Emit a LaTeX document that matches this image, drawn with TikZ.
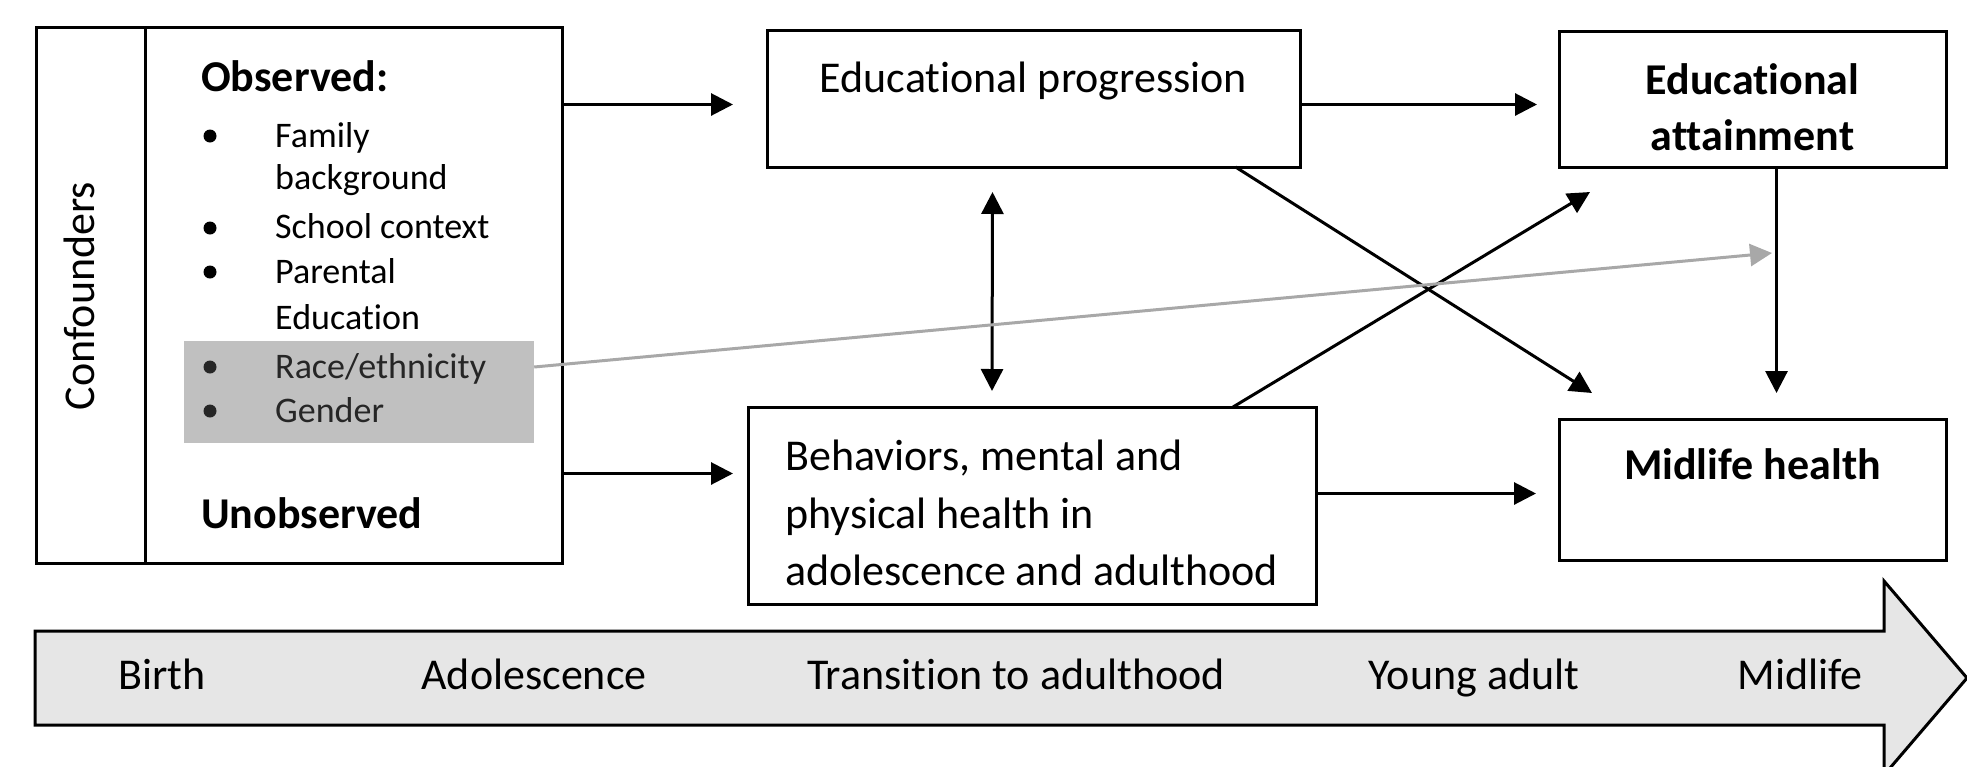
\documentclass[tikz,border=0pt]{standalone}
\usepackage{fontspec}
\setmainfont{Carlito}[Ligatures={NoCommon}]
\usetikzlibrary{arrows.meta, positioning, calc}

\definecolor{shade}{HTML}{C0C0C0}
\definecolor{band}{HTML}{E6E6E6}
\definecolor{faint}{HTML}{A8A8A8}

\tikzset{
  box/.style={draw, line width=3pt, inner sep=0pt, outer sep=0pt},
  big/.style={font=\fontsize{44}{56}\selectfont, inner sep=0pt},
  bigb/.style={font=\fontsize{44}{56}\selectfont\bfseries, inner sep=0pt},
  item/.style={font=\fontsize{36}{44}\selectfont, inner sep=0pt, anchor=base west},
  dot/.style={circle, fill, inner sep=0pt, minimum size=13pt},
  arr/.style={line width=3pt, -{Triangle[length=22pt,width=22pt]}},
}

\begin{document}
\begin{tikzpicture}[x=1pt, y=-1pt]
    \useasboundingbox (0,0) rectangle (1967,766);

    % Confounders block
    \node[box, minimum width=109pt, minimum height=536pt] (conflab) at (90.5,295) {};
    \node[big, rotate=90] (conftitle) at (79,296) {Confounders};
    \node[box, anchor=west, minimum width=417pt, minimum height=536pt] (conf) at (conflab.east) {};
    \node[fill=shade, inner sep=0pt, minimum width=350pt, minimum height=102pt] (grp) at (359,392) {};

    \node[bigb, anchor=base west] (obs) at (201,91) {Observed:};
    \node[dot] (b1) at (210,136) {};
    \node[item] (fam) at (275,147) {Family};
    \node[item] (famb) at (275,189) {background};
    \node[dot] (b2) at (210,228) {};
    \node[item] (school) at (275,238) {School context};
    \node[dot] (b3) at (210,272) {};
    \node[item] (par) at (275,283) {Parental};
    \node[item] (pare) at (275,329) {Education};
    \node[dot, black!85] (b4) at (210,367) {};
    \node[item, black!85] (race) at (275,378) {Race/ethnicity};
    \node[dot, black!85] (b5) at (210,411) {};
    \node[item, black!85] (gender) at (275,422) {Gender};
    \node[bigb, anchor=base west] (unobs) at (201,528) {Unobserved};

    % Middle boxes
    \node[box, minimum width=533pt, minimum height=137pt] (prog) at (1033.5,98.5) {};
    \node[big, anchor=base] (progtxt) at (1033.5,92) {Educational progression};
    \node[box, minimum width=568pt, minimum height=197pt] (beh) at (1032,505.5) {};
    \node[big, anchor=base west] (beh1) at (785,470) {Behaviors, mental and};
    \node[big, anchor=base west] (beh2) at (785,528) {physical health in};
    \node[big, anchor=base west] (beh3) at (785,585) {adolescence and adulthood};

    % Outcome boxes
    \node[box, minimum width=387pt, minimum height=136pt] (att) at (1752.5,99) {};
    \node[bigb, anchor=base] (att1) at (1752.5,94) {Educational};
    \node[bigb, anchor=base] (att2) at (1752.5,150) {attainment};
    \node[box, minimum width=387pt, minimum height=141pt] (mid) at (1752.5,489.5) {};
    \node[bigb, anchor=base] (midtxt) at (1752.5,479) {Midlife health};

    % Connectors
    \coordinate (progin) at ([yshift=-6pt]prog.west);
    \coordinate (behin) at ([yshift=32pt]beh.west);
    \coordinate (midin) at ([yshift=-4pt]mid.west);
    \draw[arr, shorten >=34pt] (conf.east |- progin) -- (progin);
    \draw[arr, shorten >=15pt] (conf.east |- behin) -- (behin);
    \draw[arr, shorten >=22pt] (prog.east |- progin) -- (att.west |- progin);
    \draw[arr, shorten >=23pt] (beh.east |- midin) -- (midin);
    \draw[arr, {Triangle[length=22pt,width=22pt]}-{Triangle[length=22pt,width=22pt]}]
        ([xshift=-41pt,yshift=-25pt]prog.south) -- ([xshift=-40pt,yshift=16pt]beh.north);
    \draw[arr] ([xshift=202pt]prog.south) -- ([xshift=33pt,yshift=26pt]mid.north west);
    \draw[arr] ([xshift=201pt]beh.north) -- ([xshift=31pt,yshift=-25pt]att.south west);
    \draw[arr] ([xshift=24pt]att.south) -- ([xshift=24pt,yshift=26pt]mid.north);
    \coordinate (grtip) at (1772,253);
    \draw[arr, faint] ([yshift=25pt]grp.east) -- (grtip);

    % Life course band
    \filldraw[fill=band, line width=3pt] (35,631) -- (1884,631) -- (1884,581) -- (1967,678)
        -- (1884,775) -- (1884,725) -- (35,725) -- cycle;
    \node[big, anchor=base] (birth) at (162,689) {Birth};
    \node[big, anchor=base] (adol) at (534,689) {Adolescence};
    \node[big, anchor=base] (trans) at (1016,689) {Transition to adulthood};
    \node[big, anchor=base] (young) at (1474,689) {Young adult};
    \node[big, anchor=base] (midl) at (1800,689) {Midlife};
\end{tikzpicture}
\end{document}
